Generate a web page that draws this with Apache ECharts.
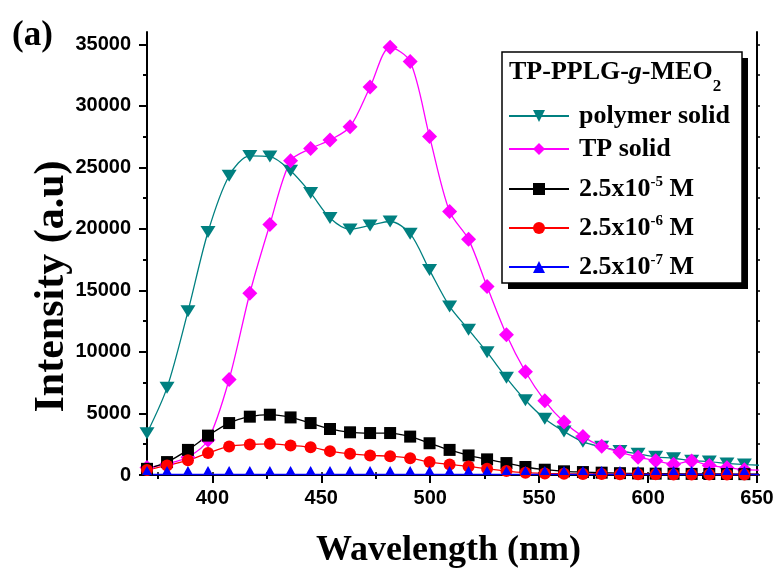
<!DOCTYPE html>
<html>
<head>
<meta charset="utf-8">
<script src="https://cdn.jsdelivr.net/npm/echarts@6/dist/echarts.min.js"></script>
<style>
  html, body { margin: 0; padding: 0; background: #fff; }
  #chart { width: 779px; height: 574px; }
</style>
</head>
<body>
<div id="chart"></div>
<script>
// wavelength (nm) of each measured point, shared by all curves
var wavelength = [370.0, 379.2, 388.8, 398.0, 407.7, 417.2, 426.4, 435.9, 445.1, 454.0,
  463.2, 472.4, 481.6, 490.8, 499.7, 508.9, 517.6, 526.1, 535.0, 543.7,
  552.6, 561.4, 570.1, 578.7, 587.1, 595.4, 603.5, 611.7, 620.0, 628.1,
  636.2, 644.2, 652.2];

var polymerSolid = [3400, 7100, 13300, 19750, 24320, 25930, 25880, 24720, 22920, 20880,
  19960, 20280, 20600, 19610, 16650, 13700, 11810, 9980, 7900, 6080,
  4580, 3540, 2700, 2290, 1960, 1720, 1480, 1360, 1160, 1090,
  940, 850, 780];
var tpSolid = [600, 910, 1450, 2850, 7770, 14770, 20360, 25530, 26530, 27220,
  28300, 31530, 34760, 33600, 27500, 21410, 19150, 15310, 11400, 8390,
  6030, 4300, 3120, 2330, 1860, 1450, 1160, 880, 1130, 780,
  590, 430, 400];
var conc5 = [500, 1050, 2040, 3200, 4220, 4740, 4900, 4680, 4220, 3740,
  3470, 3410, 3410, 3120, 2580, 2040, 1590, 1270, 970, 650,
  430, 300, 240, 190, 150, 130, 110, 100, 90, 80,
  80, 70, 70];
var conc6 = [400, 780, 1190, 1780, 2320, 2480, 2530, 2400, 2260, 1940,
  1720, 1590, 1530, 1370, 1050, 860, 700, 510, 320, 190,
  130, 100, 90, 80, 70, 60, 60, 50, 50, 50,
  40, 40, 40];
var conc7 = [40, 40, 40, 40, 40, 40, 40, 40, 40, 40,
  40, 40, 40, 40, 40, 40, 40, 40, 40, 40,
  40, 40, 40, 40, 40, 40, 40, 40, 40, 40,
  40, 40, 40];

var xMajor = [400, 450, 500, 550, 600, 650];
var xMinor = [375, 425, 475, 525, 575, 625];
var yMajor = [0, 5000, 10000, 15000, 20000, 25000, 30000, 35000];
var yMinor = [2500, 7500, 12500, 17500, 22500, 27500, 32500];

var seriesNames = ['polymer solid', 'TP solid', '2.5x10^-5 M', '2.5x10^-6 M', '2.5x10^-7 M'];
var legendRows = [116, 149, 189, 228, 267];

var serif = 'Liberation Serif';
var sans = 'Liberation Sans';

function pairs(vals) {
  return wavelength.map(function (w, i) { return [w, vals[i]]; });
}

var myChart = echarts.init(document.getElementById('chart'));

function lineSeries(name, vals, color, symbol, size, extra) {
  var s = {
    name: name,
    type: 'line',
    data: pairs(vals),
    smooth: 0.3,
    symbol: symbol,
    symbolSize: size,
    showAllSymbol: true,
    clip: true,
    lineStyle: { color: color, width: 1.3 },
    itemStyle: { color: color },
    emphasis: { disabled: true },
    z: 3
  };
  for (var k in extra) s[k] = extra[k];
  return s;
}

var option = {
  animation: false,
  grid: { left: 147, right: 22, top: 32, bottom: 96 },
  xAxis: [
    {
      type: 'value', position: 'bottom', min: 370, max: 650,
      axisLine: { lineStyle: { color: '#000', width: 2 } },
      axisTick: { customValues: xMajor, length: 8, inside: false, lineStyle: { color: '#000', width: 2 } },
      axisLabel: { customValues: xMajor, margin: 13, color: '#000', fontFamily: sans, fontWeight: 'bold', fontSize: 20 },
      splitLine: { show: false },
      name: 'Wavelength (nm)', nameLocation: 'middle', nameGap: 58, nameMoveOverlap: false,
      nameTextStyle: { fontFamily: serif, fontWeight: 'bold', fontSize: 36, color: '#000', padding: [0, 7, 0, 0] }
    },
    {
      type: 'value', position: 'bottom', min: 370, max: 650,
      axisLine: { show: false },
      axisTick: { customValues: xMinor, length: 4, lineStyle: { color: '#000', width: 2 } },
      axisLabel: { show: false }, splitLine: { show: false }
    },
    {
      type: 'value', position: 'top', min: 370, max: 650,
      axisLine: { lineStyle: { color: '#000', width: 2 } },
      axisTick: { customValues: xMinor.concat(xMajor), length: 3, lineStyle: { color: '#000', width: 1.5 } },
      axisLabel: { show: false }, splitLine: { show: false }
    }
  ],
  yAxis: [
    {
      type: 'value', position: 'left', min: 0, max: 36000, interval: 5000,
      axisLine: { show: true, lineStyle: { color: '#000', width: 2 } },
      axisTick: { show: true, customValues: yMajor, length: 8, lineStyle: { color: '#000', width: 2 } },
      axisLabel: {
        customValues: yMajor, margin: 16, color: '#000', fontFamily: sans, fontWeight: 'bold', fontSize: 20,
        formatter: function (v) { return String(v); }
      },
      splitLine: { show: false },
      name: 'Intensity (a.u)', nameLocation: 'middle', nameGap: 74, nameRotate: 90, nameMoveOverlap: false,
      nameTextStyle: { fontFamily: serif, fontWeight: 'bold', fontSize: 42, color: '#000', padding: [0, 66, 0, 0] }
    },
    {
      type: 'value', position: 'left', min: 0, max: 36000,
      axisLine: { show: false },
      axisTick: { show: true, customValues: yMinor, length: 4, lineStyle: { color: '#000', width: 2 } },
      axisLabel: { show: false }, splitLine: { show: false }
    },
    {
      type: 'value', position: 'right', min: 0, max: 36000,
      axisLine: { show: true, lineStyle: { color: '#000', width: 2 } },
      axisTick: { show: true, customValues: yMinor.concat(yMajor), length: 3, lineStyle: { color: '#000', width: 1.5 } },
      axisLabel: { show: false }, splitLine: { show: false }
    }
  ],
  legend: seriesNames.map(function (name, i) {
    return {
      data: [name],
      left: 508,
      top: legendRows[i] - 15,
      orient: 'vertical',
      padding: 0,
      itemWidth: 60,
      itemHeight: 15,
      itemGap: 0,
      selectedMode: false,
      formatter: function (n) { return n.replace(/\^(-\d+)/, '{sup|$1}'); },
      textStyle: {
        fontFamily: serif, fontWeight: 'bold', fontSize: 26, lineHeight: 30, color: '#000',
        padding: [0, 0, 0, 5],
        rich: {
          sup: { fontFamily: serif, fontWeight: 'bold', fontSize: 15, lineHeight: 15, padding: [0, 0, 13, 0], color: '#000' }
        }
      }
    };
  }),
  graphic: [
    { type: 'rect', z: 4, shape: { x: 508, y: 58, width: 240, height: 231 }, style: { fill: '#000' } },
    { type: 'rect', z: 4, shape: { x: 502, y: 52, width: 240, height: 231 }, style: { fill: '#fff', stroke: '#000', lineWidth: 1.5 } },
    {
      type: 'text', z: 6, x: 509, y: 72,
      style: {
        text: '{b|TP-PPLG-}{i|g}{b|-MEO}{sub|2}',
        verticalAlign: 'middle',
        rich: {
          b: { fontFamily: serif, fontWeight: 'bold', fontSize: 26, lineHeight: 30, fill: '#000' },
          i: { fontFamily: serif, fontWeight: 'bold', fontStyle: 'italic', fontSize: 26, lineHeight: 30, fill: '#000' },
          sub: { fontFamily: serif, fontWeight: 'bold', fontSize: 17, lineHeight: 17, padding: [30, 0, 0, 0], fill: '#000' }
        }
      }
    },
    {
      type: 'text', x: 12, y: 36,
      style: { text: '(a)', fontFamily: serif, fontWeight: 'bold', fontSize: 35, fill: '#000', verticalAlign: 'middle' }
    }
  ],
  series: [
    lineSeries(seriesNames[0], polymerSolid, '#008080', 'triangle', [15, 12], { symbolRotate: 180 }),
    lineSeries(seriesNames[1], tpSolid, '#ff00ff', 'diamond', [15, 15], {}),
    lineSeries(seriesNames[2], conc5, '#000000', 'rect', 12, {}),
    lineSeries(seriesNames[3], conc6, '#ff0000', 'circle', 12, {}),
    lineSeries(seriesNames[4], conc7, '#0000ff', 'triangle', [10, 9], { symbolOffset: [0, -4] })
  ]
};

myChart.setOption(option);
</script>
</body>
</html>
